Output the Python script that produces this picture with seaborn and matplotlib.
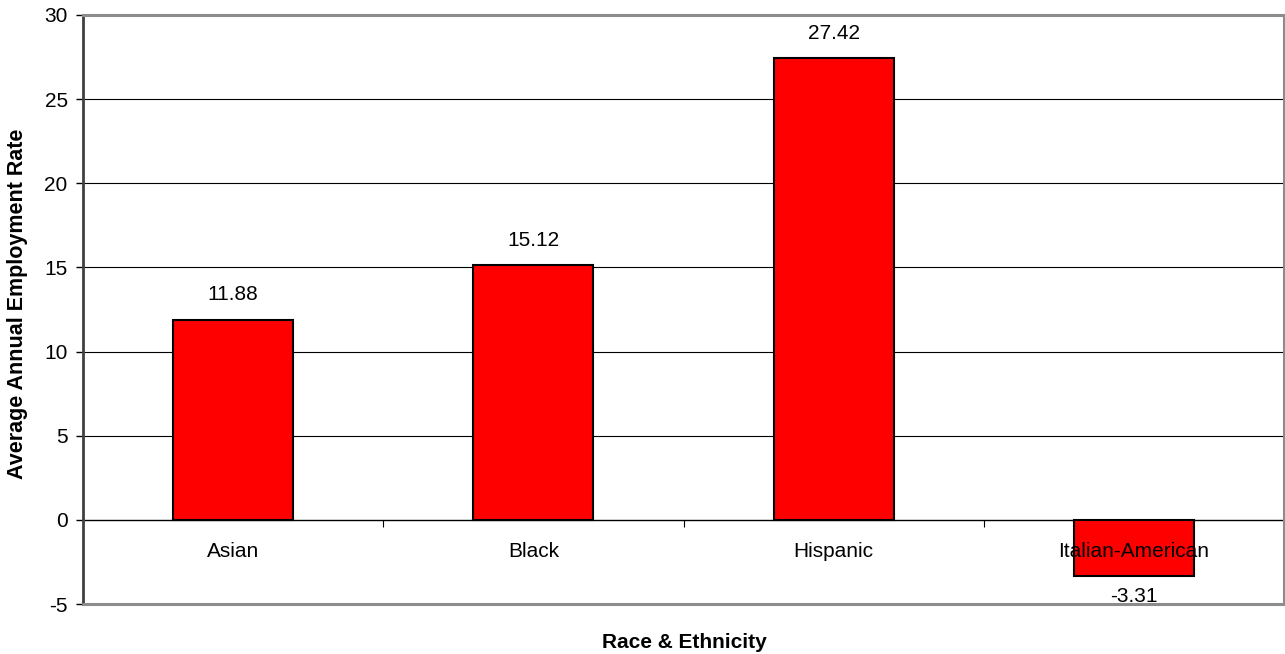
import matplotlib
matplotlib.use("Agg")
import matplotlib.pyplot as plt
import seaborn as sns
import pandas as pd

categories = ["Asian", "Black", "Hispanic", "Italian-American"]
values = [11.88, 15.12, 27.42, -3.31]
value_labels = ["11.88", "15.12", "27.42", "-3.31"]
y_ticks = [-5, 0, 5, 10, 15, 20, 25, 30]

sns.set_theme(style="white")
plt.rcParams["font.family"] = ["Liberation Sans", "DejaVu Sans"]
plt.rcParams["text.color"] = "black"
plt.rcParams["xtick.color"] = "black"
plt.rcParams["ytick.color"] = "black"
plt.rcParams["axes.labelcolor"] = "black"

FS = 15

df = pd.DataFrame({"cat": categories, "val": values})

fig = plt.figure(figsize=(12.85, 6.54), dpi=100)
ax = fig.add_axes([83 / 1285, 1 - 604 / 654, 1201 / 1285, (604 - 15) / 654])

sns.barplot(data=df, x="cat", y="val", order=categories, width=0.4,
            color="#FF0000", edgecolor="black", linewidth=1.5, saturation=1,
            ax=ax, zorder=3)

ax.set_ylim(-5, 30)
ax.set_xlim(-0.5, len(categories) - 0.5)
ax.set_yticks(y_ticks)
ax.set_yticklabels([str(t) for t in y_ticks], fontsize=FS)

# gridlines at interior ticks
for t in y_ticks[2:-1]:
    ax.axhline(t, color="black", linewidth=0.8, zorder=1)
ax.axhline(-5, color="#8c8c8c", linewidth=2.2, zorder=4, clip_on=False)

# spines
ax.spines["bottom"].set_position(("data", 0))
ax.spines["bottom"].set_color("black")
ax.spines["bottom"].set_linewidth(1.0)
ax.spines["bottom"].set_zorder(2)
ax.spines["top"].set_color("#8c8c8c")
ax.spines["top"].set_linewidth(2.2)
ax.spines["right"].set_color("#8c8c8c")
ax.spines["right"].set_linewidth(2.2)
ax.spines["left"].set_color("#404040")
ax.spines["left"].set_linewidth(2.0)

# x ticks at category boundaries, labels at centers
ax.set_xticks([i + 0.5 for i in range(len(categories) - 1)])
ax.set_xticklabels([])
ax.set_xticks(list(range(len(categories))), minor=True)
ax.set_xticklabels(categories, minor=True, fontsize=FS)
ax.tick_params(axis="x", which="major", direction="out", length=5, width=0.8,
               color="black", bottom=True)
ax.tick_params(axis="x", which="minor", length=0, pad=16, bottom=True)
ax.tick_params(axis="y", direction="out", length=5, width=1.0, color="black",
               left=True, pad=6)
ax.xaxis.set_zorder(5)

for i, (v, lab) in enumerate(zip(values, value_labels)):
    off = 18 if v >= 0 else -15
    ax.annotate(lab, (i, v), xytext=(0, off), textcoords="offset points",
                ha="center", va="center", fontsize=FS, zorder=6)

ax.set_xlabel("")
ax.set_ylabel("Average Annual Employment Rate", fontsize=15.5, fontweight="bold")
ax.yaxis.set_label_coords(-(83 - 17) / 1201, (604 - 304) / 589)
ax.yaxis.label.set_verticalalignment("center")
fig.text((83 + 1285) / 2 / 1285, 1 - 642 / 654, "Race & Ethnicity", ha="center",
         va="center", fontsize=FS, fontweight="bold")

fig.savefig("out.png", dpi=100)
